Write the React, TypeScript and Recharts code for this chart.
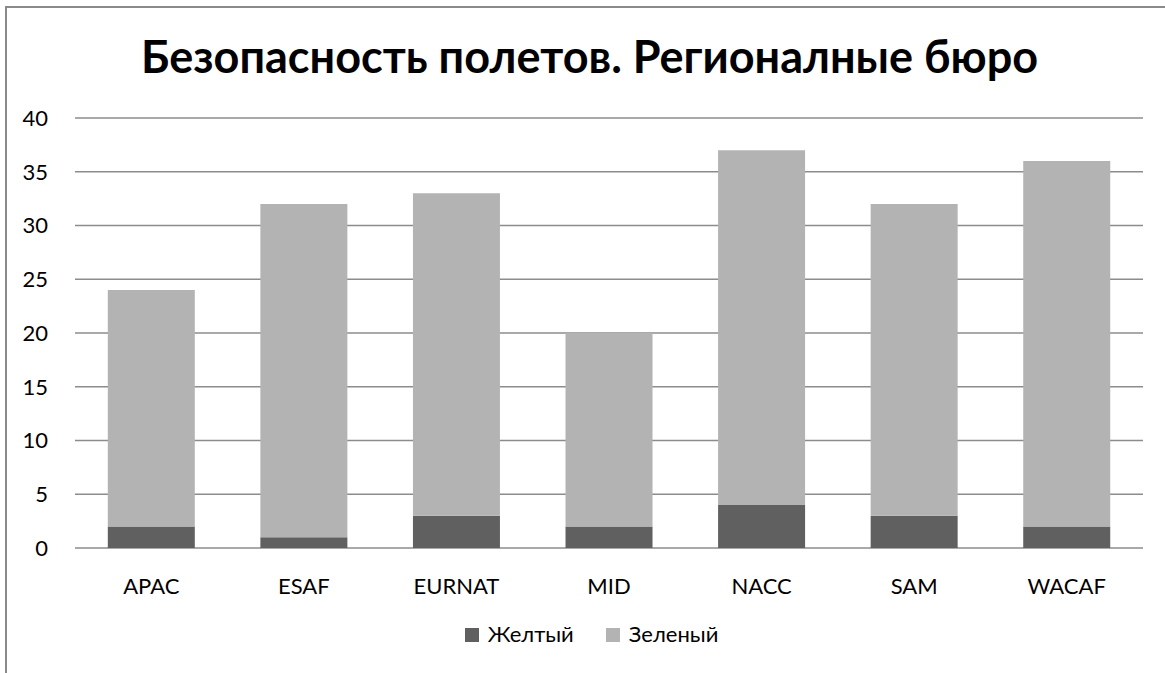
import { BarChart, Bar, XAxis, YAxis, CartesianGrid, Legend } from 'recharts';

const regions = ['APAC', 'ESAF', 'EURNAT', 'MID', 'NACC', 'SAM', 'WACAF'];
const yellow = [2, 1, 3, 2, 4, 3, 2];
const green = [22, 31, 30, 18, 33, 29, 34];
const yTicks = [0, 5, 10, 15, 20, 25, 30, 35, 40];

const data = regions.map((region, i) => ({
  region,
  yellow: yellow[i],
  green: green[i],
}));

const font = 'Lato, "Open Sans", sans-serif';

function LegendContent(props: any) {
  const items = props.payload || [];
  return (
    <div style={{ textAlign: 'center', lineHeight: '22px', height: 22, fontSize: 22, fontFamily: font, color: '#000', whiteSpace: 'nowrap' }}>
      {items.map((entry: any, i: number) => (
        <span key={entry.value} style={{ marginLeft: i === 0 ? 0 : 32 }}>
          <span
            style={{
              display: 'inline-block',
              width: 14,
              height: 14,
              background: entry.color,
              verticalAlign: 'baseline',
              marginRight: 9,
            }}
          />
          {entry.value}
        </span>
      ))}
    </div>
  );
}

export default function App() {
  return (
    <div style={{ position: 'absolute', left: 0, top: 0, width: 1165, height: 673, background: '#fff', overflow: 'hidden', fontFamily: font }}>
      <div
        style={{
          position: 'absolute',
          left: 5,
          top: 6,
          width: 1400,
          height: 900,
          borderLeft: '2px solid #8a8a8a',
          borderTop: '2px solid #8a8a8a',
        }}
      />
      <div
        style={{
          position: 'absolute',
          left: 0,
          top: 29,
          width: 1179,
          textAlign: 'center',
          fontSize: 45,
          fontWeight: 700,
          color: '#000',
          fontFamily: font,
          whiteSpace: 'nowrap',
        }}
      >
        Безопасность полетов. Регионалные бюро
      </div>
      <div style={{ position: 'absolute', left: 0, top: 0 }}>
        <BarChart
          width={1165}
          height={673}
          data={data}
          margin={{ top: 118, right: 22, left: 0, bottom: 65 }}
          barCategoryGap="21.5%"
        >
          <CartesianGrid vertical={false} stroke="#8c8c8c" strokeWidth={1.5} />
          <XAxis
            dataKey="region"
            axisLine={false}
            tickLine={false}
            height={60}
            tickMargin={24}
            tick={{ fontSize: 22, fill: '#000', fontFamily: font }}
          />
          <YAxis
            domain={[0, 40]}
            ticks={yTicks}
            width={75}
            axisLine={false}
            tickLine={false}
            tickMargin={21}
            tick={{ fontSize: 22, fill: '#000', fontFamily: font }}
          />
          <Legend
            verticalAlign="middle"
            wrapperStyle={{ top: 623, left: 9, width: 1165 }}
            content={LegendContent}
          />
          <Bar dataKey="yellow" name="Желтый" stackId="a" fill="#606060" isAnimationActive={false} />
          <Bar dataKey="green" name="Зеленый" stackId="a" fill="#b3b3b3" isAnimationActive={false} />
        </BarChart>
      </div>
    </div>
  );
}
